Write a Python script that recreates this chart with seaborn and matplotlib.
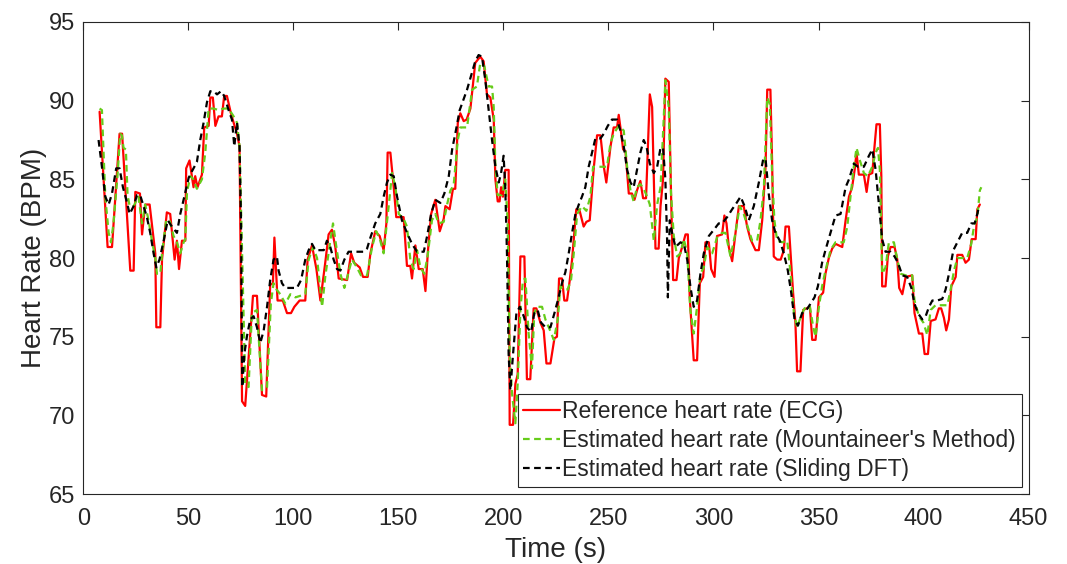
import numpy as np
import pandas as pd
import matplotlib
matplotlib.use("Agg")
import matplotlib.pyplot as plt
import seaborn as sns

# Reference heart rate (ECG)
ref_t = [7.8, 11.6, 13.7, 17.3, 18.5, 22.4, 24.0, 24.8, 27.0, 28.0, 29.5, 31.6, 34.3, 34.8, 36.7,
         37.5, 39.8, 41.4, 43.5, 44.6, 45.6, 47.0, 48.6, 49.0, 50.6, 52.5, 53.3, 54.4, 56.5, 57.6,
         59.7, 60.5, 61.7, 62.9, 64.4, 66.0, 67.1, 68.4, 70.3, 71.6, 73.2, 74.4, 75.6, 77.1, 80.8,
         82.7, 85.1, 87.1, 89.0, 90.3, 91.0, 92.5, 95.0, 97.0, 98.9, 100.5, 103.0, 105.7, 106.8,
         108.9, 111.0, 112.9, 115.2, 116.8, 118.4, 120.0, 121.6, 125.6, 127.5, 129.0, 131.6, 133.2,
         135.4, 136.7, 139.0, 141.1, 143.0, 144.3, 144.9, 146.2, 147.8, 149.0, 152.5, 154.1, 155.7,
         156.5, 158.1, 159.7, 161.6, 162.9, 164.0, 165.6, 167.6, 169.7, 171.6, 172.4, 174.4, 176.0,
         177.1, 178.3, 179.5, 181.1, 182.5, 184.3, 186.6, 189.0, 190.6, 192.2, 193.8, 195.4, 196.2,
         197.3, 198.2, 198.9, 199.8, 200.9, 202.5, 203.0, 204.6, 205.7, 206.8, 208.1, 210.0, 211.2,
         212.8, 214.4, 215.7, 217.6, 219.2, 220.5, 222.4, 224.3, 225.5, 226.5, 227.9, 229.0, 230.3,
         231.6, 232.7, 234.7, 236.3, 238.2, 239.5, 241.1, 243.0, 244.6, 246.2, 247.8, 249.0, 251.0,
         252.5, 254.1, 254.9, 255.7, 257.0, 258.1, 259.7, 261.2, 262.4, 263.6, 265.2, 266.5, 267.9,
         268.7, 269.7, 270.8, 271.6, 272.4, 273.9, 274.8, 276.0, 277.1, 278.7, 279.8, 280.8, 282.4,
         283.5, 285.1, 286.7, 287.8, 288.7, 290.6, 292.2, 293.5, 295.1, 296.2, 297.8, 298.9, 300.5,
         301.7, 304.1, 305.2, 306.2, 307.3, 308.9, 310.5, 312.1, 314.4, 316.0, 317.6, 320.0, 321.6,
         323.2, 324.8, 325.6, 327.1, 327.9, 328.7, 330.3, 332.0, 333.5, 334.3, 335.9, 336.7, 337.9,
         339.0, 339.8, 341.4, 342.7, 345.9, 347.0, 348.6, 350.2, 352.2, 353.3, 354.9, 356.5, 358.1,
         361.3, 362.9, 364.5, 366.0, 367.2, 368.1, 369.2, 371.6, 372.9, 374.0, 375.6, 376.4, 377.6,
         379.2, 379.9, 380.3, 381.9, 383.0, 384.3, 386.2, 387.5, 388.4, 389.9, 391.5, 394.6, 395.7,
         397.8, 399.4, 400.5, 402.1, 403.4, 405.7, 407.3, 408.4, 409.7, 410.8, 412.1, 413.2, 415.3,
         416.1, 418.4, 420.0, 421.6, 422.9, 424.8, 425.6, 426.8]
ref_hr = [89.3, 80.7, 80.7, 87.9, 87.9, 79.2, 79.2, 84.2, 84.1, 81.5, 83.4, 83.4, 80.3, 75.6, 75.6,
          79.9, 82.9, 82.8, 79.9, 81.1, 79.3, 81.1, 81.1, 85.7, 86.2, 84.5, 85.2, 84.5, 85.3, 88.3,
          88.4, 90.2, 90.2, 88.4, 89.0, 89.0, 90.3, 90.3, 89.2, 88.6, 87.9, 87.1, 70.9, 70.6, 77.6,
          77.6, 71.3, 71.2, 78.3, 78.4, 81.3, 77.3, 77.3, 76.5, 76.5, 76.9, 77.3, 77.3, 79.9,
          80.8, 79.3, 77.3, 79.7, 81.5, 81.8, 80.7, 78.7, 78.6, 80.3, 79.7, 79.4, 78.8,
          78.8, 80.3, 81.7, 81.4, 80.5, 82.2, 86.7, 86.7, 84.5, 82.6, 82.6, 79.5, 79.5,
          78.7, 80.8, 79.3, 79.3, 77.9, 80.3, 82.8, 83.7, 81.7, 82.5, 83.3, 83.1, 84.4,
          84.4, 88.6, 89.2, 88.7, 88.8, 89.5, 92.4, 92.8, 92.5, 90.4, 90.2, 88.8, 85.0,
          83.6, 83.6, 84.5, 83.9, 85.6, 85.6, 69.4, 69.4, 72.0, 72.6, 80.1, 80.1, 72.3,
          72.3, 76.8, 76.8, 75.9, 75.4, 73.3, 73.3, 74.9, 75.0, 78.7, 78.7, 77.3, 77.3,
          78.6, 79.9, 83.1, 83.0, 82.0, 82.3, 82.4, 85.7, 87.8, 87.8, 85.8, 84.8, 87.1,
          88.3, 88.3, 89.1, 88.3, 86.9, 86.8, 84.1, 84.1, 83.7, 84.3, 84.9, 83.8, 83.8,
          86.7, 90.4, 89.6, 85.0, 80.6, 80.6, 83.3, 85.0, 91.4, 91.2, 84.1, 78.6, 78.6,
          80.0, 80.7, 81.5, 81.5, 77.5, 73.5, 73.5, 78.4, 78.8, 81.0, 81.0, 79.3, 78.8,
          81.4, 81.5, 82.7, 82.2, 80.7, 79.8, 81.6, 83.3, 83.3, 82.0, 81.2, 80.5, 80.5,
          82.4, 85.8, 90.7, 90.7, 86.2, 80.1, 79.9, 79.9, 80.5, 82.0, 82.0, 80.3, 77.8,
          75.9, 72.8, 72.8, 76.7, 76.9, 74.8, 74.8, 77.5, 77.8, 79.0, 80.0, 80.6, 80.9,
          80.7, 82.4, 83.9, 84.5, 85.6, 86.7, 85.3, 85.3, 84.2, 85.3, 85.4, 86.7, 88.5,
          88.5, 85.2, 78.2, 78.2, 80.1, 80.7, 80.7, 79.9, 78.1, 77.7, 78.8, 78.9, 76.5,
          75.2, 75.2, 73.9, 73.9, 76.0, 76.1, 76.8, 76.8, 76.2, 75.4, 76.1, 78.2, 78.8,
          80.2, 80.2, 79.7, 79.9, 81.2, 81.2, 83.1, 83.4]

# Estimated heart rate (Mountaineer's Method)
mm_t = [7.8, 8.9, 10.5, 12.1, 13.2, 14.4, 16.3, 17.6, 18.4, 19.2, 20.3, 21.1, 22.1, 24.0, 26.3,
        28.0, 29.5, 31.1, 32.7, 34.3, 35.1, 36.7, 37.5, 39.5, 41.1, 43.0, 44.6, 46.2, 47.8, 48.6,
        49.4, 51.0, 52.5, 54.1, 56.5, 58.1, 59.7, 62.1, 64.4, 66.8, 69.2, 71.6, 73.2, 74.4, 75.1,
        76.0, 77.1, 78.7, 80.3, 82.7, 85.1, 87.5, 89.3, 90.6, 91.4, 93.8, 96.2, 98.6, 101.0,
        103.3, 105.7, 107.3, 109.4, 111.3, 113.7, 115.2, 117.6, 118.9, 120.5, 122.4, 124.3, 125.9,
        127.9, 130.3, 132.2, 135.1, 137.5, 139.5, 141.4, 143.0, 145.4, 147.0, 148.6, 150.2, 152.5,
        154.1, 155.7, 157.3, 158.9, 160.5, 162.4, 164.0, 166.0, 167.6, 169.2, 171.6, 173.2, 174.8,
        176.3, 178.3, 179.5, 182.7, 185.1, 187.4, 189.0, 190.9, 193.0, 194.6, 195.4, 196.2, 197.3,
        199.3, 200.9, 202.0, 203.0, 204.1, 205.7, 206.8, 208.1, 209.3, 210.5, 212.0, 213.6, 214.7,
        216.0, 218.4, 220.0, 221.6, 224.0, 225.9, 227.1, 228.7, 230.6, 232.2, 233.5, 235.1, 237.4,
        239.5, 241.4, 242.7, 249.3, 251.0, 252.5, 254.9, 257.3, 258.9, 260.5, 262.0, 263.6, 265.2,
        266.8, 268.4, 269.7, 270.8, 271.6, 273.2, 274.8, 276.3, 277.1, 278.7, 279.8, 281.1, 282.7,
        284.3, 285.9, 287.5, 289.0, 290.6, 292.2, 293.8, 295.4, 297.0, 299.4, 301.7, 304.1, 305.7,
        308.1, 310.5, 312.5, 314.4, 316.3, 318.4, 320.8, 322.4, 324.0, 325.6, 326.8, 327.9, 329.0,
        330.3, 332.7, 335.1, 336.7, 338.3, 339.8, 342.2, 343.8, 345.9, 347.5, 348.6, 350.2, 351.7,
        353.3, 355.7, 358.1, 362.0, 363.7, 364.9, 366.8, 368.1, 369.7, 371.6, 373.5, 375.6, 377.2,
        378.3, 379.2, 380.3, 381.9, 383.5, 385.9, 387.5, 389.1, 391.5, 394.6, 395.7, 397.8, 399.9,
        401.8, 403.4, 405.7, 411.3, 412.9, 414.5, 416.1, 420.8, 422.7, 424.0, 425.6, 426.8, 427.5]
mm_hr = [89.5, 89.4, 83.9, 81.6, 81.0, 82.2, 85.2, 87.9, 87.8, 87.0, 86.9, 84.0, 83.3, 83.3, 83.9,
         82.2, 83.4, 82.4, 81.1, 80.0, 79.0, 79.0, 80.3, 82.4, 82.4, 81.4, 81.0, 80.3, 81.0, 81.2,
         84.2, 85.2, 85.0, 84.4, 85.0, 86.7, 89.5, 89.5, 89.4, 89.5, 89.5, 89.0, 88.6, 87.1, 83.3,
         78.2, 72.0, 71.8, 76.5, 76.7, 71.6, 71.8, 77.1, 78.4, 78.1, 77.7, 77.1, 77.7, 77.5,
         77.6, 77.7, 79.9, 80.7, 80.0, 76.9, 78.8, 81.1, 82.2, 80.7, 79.0, 78.1, 78.9,
         79.9, 79.4, 78.9, 78.9, 80.7, 81.7, 81.1, 80.3, 83.3, 85.4, 84.5, 82.8, 82.5,
         82.0, 79.9, 79.3, 80.5, 79.4, 79.0, 80.2, 82.4, 82.8, 82.2, 82.3, 83.4, 84.3,
         84.6, 87.5, 88.3, 88.3, 90.7, 90.9, 92.4, 92.2, 90.9, 90.9, 89.6, 85.8, 84.0,
         84.0, 85.0, 82.4, 73.9, 71.4, 69.5, 72.0, 76.7, 78.6, 78.7, 75.2, 73.0, 76.5,
         76.9, 76.9, 76.1, 75.6, 74.8, 76.1, 78.2, 78.0, 78.0, 78.6, 80.3, 82.8, 83.3,
         83.0, 83.9, 85.8, 85.8, 87.3, 87.9, 88.4, 88.1, 85.8, 84.3, 83.6, 84.5, 84.7,
         84.4, 83.9, 83.4, 82.1, 81.1, 83.4, 84.5, 88.8, 91.3, 89.6, 84.1, 81.4, 80.1,
         80.3, 81.2, 80.3, 76.7, 75.2, 76.9, 79.0, 79.4, 80.7, 80.3, 81.3, 81.6, 81.6,
         80.1, 81.6, 83.3, 82.8, 82.0, 81.1, 81.1, 82.4, 84.5, 90.2, 89.8, 85.4, 82.4,
         81.1, 81.0, 81.1, 79.0, 76.5, 75.6, 76.5, 76.9, 76.9, 75.6, 75.0, 76.9, 78.2,
         79.2, 80.5, 81.0, 81.0, 82.0, 83.5, 85.8, 87.0, 86.2, 85.4, 85.2, 85.8, 86.7,
         87.0, 85.6, 79.0, 79.4, 81.0, 81.0, 79.9, 79.0, 78.9, 78.9, 77.3, 76.3, 75.9,
         75.1, 76.7, 77.0, 77.0, 78.0, 79.2, 80.0, 80.0, 80.9, 82.0, 82.6, 84.3, 84.5]

# Estimated heart rate (Sliding DFT)
dft_t = [7.3, 8.9, 10.5, 12.1, 13.7, 15.7, 17.3, 18.9, 20.5, 22.1, 24.0, 25.6, 27.1, 28.7, 30.3,
         31.9, 33.5, 34.8, 36.3, 38.3, 40.2, 42.2, 44.6, 46.2, 48.1, 50.2, 51.7, 54.1, 55.7, 57.3,
         58.9, 60.5, 62.1, 63.7, 65.6, 67.1, 69.2, 70.8, 71.9, 73.2, 74.4, 75.1, 75.7, 76.7, 77.9,
         79.5, 81.1, 82.7, 84.3, 85.9, 87.5, 89.0, 90.6, 92.2, 93.0, 94.6, 96.2, 101.7, 103.7,
         105.7, 107.3, 108.9, 110.5, 112.9, 114.5, 116.0, 117.6, 119.2, 120.8, 122.4, 124.3, 126.3,
         133.5, 135.1, 136.7, 139.0, 141.4, 143.0, 144.6, 146.2, 147.8, 149.4, 151.7, 154.1, 156.5,
         158.9, 162.1, 163.7, 165.6, 167.6, 170.0, 171.9, 174.0, 175.6, 177.1, 179.2, 181.1, 182.7,
         185.1, 186.6, 188.2, 189.8, 191.4, 193.0, 194.6, 196.2, 197.8, 198.9, 200.1, 200.9, 201.7,
         202.5, 203.3, 204.6, 206.2, 207.8, 209.7, 211.2, 213.2, 214.7, 216.3, 217.9, 220.0, 222.4,
         224.3, 225.9, 227.9, 229.5, 231.1, 232.7, 234.3, 235.9, 237.4, 239.0, 240.6, 242.2, 243.8,
         246.2, 247.8, 249.7, 251.7, 254.1, 255.7, 257.3, 258.9, 260.5, 262.0, 263.6, 265.2, 266.8,
         268.1, 269.7, 271.6, 273.2, 274.8, 276.0, 277.1, 277.9, 278.3, 279.2, 280.3, 281.9, 284.3,
         285.9, 287.5, 289.0, 290.6, 292.2, 293.8, 295.4, 297.8, 300.2, 302.5, 304.1, 306.5, 308.9,
         311.0, 312.9, 314.8, 316.8, 319.2, 321.6, 323.7, 324.8, 326.3, 327.9, 329.5, 331.6, 333.5,
         335.4, 337.0, 338.6, 340.2, 342.2, 344.3, 346.2, 348.1, 349.7, 351.7, 353.3, 355.7, 358.1,
         360.5, 362.9, 364.5, 366.8, 368.8, 371.6, 374.0, 375.6, 377.2, 378.8, 380.3, 381.9, 384.3,
         386.2, 387.8, 389.9, 392.2, 394.2, 395.7, 397.3, 399.4, 401.0, 402.6, 404.2, 406.5, 408.9,
         410.5, 412.1, 414.2, 416.1, 418.4, 420.8, 422.7, 424.3, 425.6, 426.4]
dft_hr = [87.5, 85.8, 83.9, 83.4, 84.1, 85.7, 85.7, 84.5, 83.7, 82.8, 83.3, 84.0, 84.0, 83.3, 82.6,
          81.6, 80.3, 79.4, 79.9, 81.1, 82.4, 82.0, 81.6, 82.8, 83.9, 85.1, 85.5, 86.1, 87.5, 88.6,
          89.9, 90.6, 90.6, 90.4, 90.6, 90.3, 89.4, 88.8, 87.1, 88.6, 87.1, 82.4, 71.8, 73.9, 75.0,
          76.1, 76.3, 75.6, 74.6, 75.4, 76.9, 78.6, 79.9, 80.1, 79.2, 78.4, 78.1, 78.1, 78.6,
          79.9, 80.5, 80.9, 80.5, 80.5, 80.5, 81.1, 80.7, 79.9, 79.3, 79.2, 79.9, 80.4,
          80.4, 80.6, 81.3, 82.2, 82.8, 83.9, 84.8, 85.3, 85.2, 83.9, 82.4, 81.6, 80.9,
          80.4, 80.4, 81.4, 82.8, 83.7, 83.5, 84.1, 85.2, 86.9, 87.9, 89.4, 90.1, 90.7,
          91.8, 92.5, 92.9, 92.8, 91.3, 89.4, 87.5, 85.8, 84.8, 85.4, 86.5, 84.5, 80.3,
          73.9, 71.6, 73.9, 76.5, 76.9, 76.3, 75.6, 75.3, 76.5, 76.7, 75.9, 75.6, 75.6,
          76.5, 77.3, 78.4, 79.1, 80.3, 81.6, 82.8, 83.4, 83.9, 84.5, 85.8, 86.7, 87.6,
          87.6, 87.9, 88.4, 88.8, 88.8, 88.1, 87.1, 85.6, 84.8, 84.5, 85.6, 86.7, 87.5,
          87.1, 86.0, 85.4, 85.8, 87.0, 87.0, 85.0, 81.4, 77.5, 82.4, 81.6, 80.7, 81.0,
          80.9, 79.9, 78.2, 76.9, 77.3, 79.0, 80.3, 81.4, 81.8, 82.2, 82.2, 82.6, 83.1,
          83.5, 83.9, 83.3, 82.4, 83.3, 84.8, 86.3, 86.3, 84.1, 82.4, 81.6, 81.1, 80.3,
          79.2, 77.8, 76.1, 75.7, 76.5, 76.7, 77.1, 77.5, 78.2, 79.7, 80.5, 81.6, 82.7,
          82.8, 84.5, 85.0, 86.0, 85.8, 85.8, 86.5, 86.9, 85.6, 83.3, 81.2, 80.4, 80.4,
          80.1, 79.7, 78.9, 78.8, 78.1, 77.1, 76.5, 76.1, 76.3, 76.9, 77.3, 77.3, 77.4,
          78.0, 79.0, 80.5, 81.0, 81.6, 81.6, 82.2, 82.2, 82.8, 83.3]

sns.set_style("white")
plt.rcParams['font.family'] = ['Liberation Sans', 'DejaVu Sans']

fig = plt.figure(figsize=(10.67, 5.64), dpi=100)
ax = fig.add_axes([0.078, 0.124, 0.886, 0.837])

sns.lineplot(x=ref_t, y=ref_hr, ax=ax, color='#ff0000', linewidth=1.6,
             sort=False, estimator=None, label='Reference heart rate (ECG)')
sns.lineplot(x=mm_t, y=mm_hr, ax=ax, color='#66cc1a', linewidth=1.6, linestyle=(0, (3, 2)),
             sort=False, estimator=None, label="Estimated heart rate (Mountaineer's Method)")
sns.lineplot(x=dft_t, y=dft_hr, ax=ax, color='black', linewidth=1.6, linestyle=(0, (3, 2)),
             sort=False, estimator=None, label='Estimated heart rate (Sliding DFT)')

ax.set_xlim(0, 450)
ax.set_ylim(65, 95)
ax.set_xticks(np.arange(0, 451, 50))
ax.set_yticks(np.arange(65, 96, 5))
ax.tick_params(direction='in', length=6, width=0.8, labelsize=17, colors='#262626',
               top=True, right=True)
ax.tick_params(axis='x', pad=10)
ax.tick_params(axis='y', pad=6)
for s in ax.spines.values():
    s.set_color('#262626')
    s.set_linewidth(0.8)
ax.set_xlabel('Time (s)', fontsize=20, color='#262626', labelpad=5)
ax.set_ylabel('Heart Rate (BPM)', fontsize=20, color='#262626', labelpad=1)

leg = ax.legend(loc='lower right', fontsize=16.5, frameon=True, fancybox=False,
                handlelength=1.6, handletextpad=0.1, borderpad=0.25, labelspacing=0.28,
                borderaxespad=0.3)
leg.get_frame().set_edgecolor('#262626')
leg.get_frame().set_linewidth(0.8)
leg.get_frame().set_alpha(1)

fig.savefig('out.png', dpi=100)
